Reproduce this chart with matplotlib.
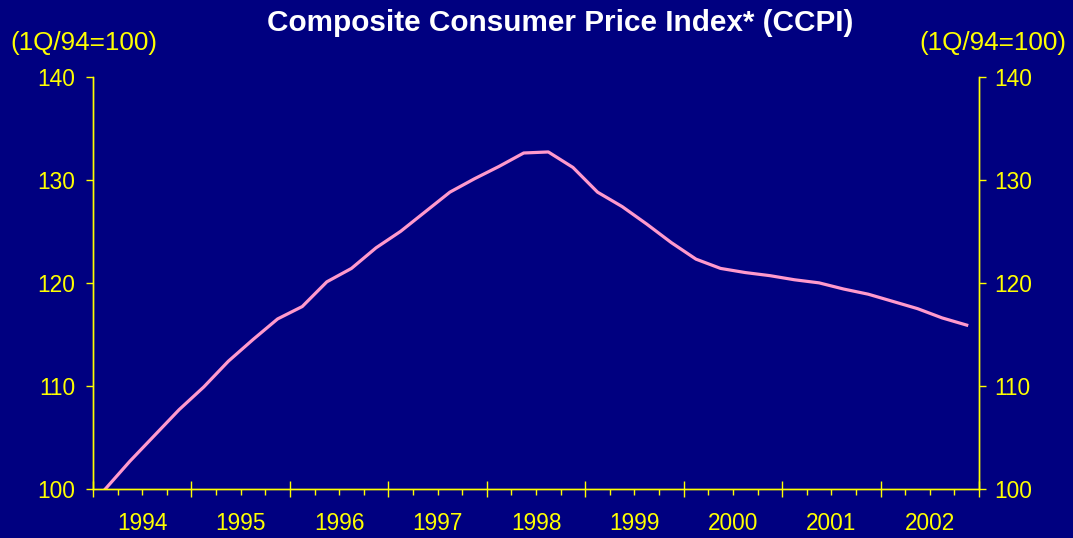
import matplotlib
matplotlib.use("Agg")
import matplotlib.pyplot as plt
import numpy as np

plt.rcParams["font.family"] = ["Liberation Sans", "DejaVu Sans"]

# quarterly CCPI, 1Q94 .. 4Q02 (1Q94 = 100)
years = ["1994", "1995", "1996", "1997", "1998", "1999", "2000", "2001", "2002"]
ccpi = [100.0, 102.7, 105.2, 107.7, 109.9, 112.4, 114.5, 116.5,
        117.7, 120.1, 121.4, 123.4, 125.0, 126.9, 128.8, 130.1,
        131.3, 132.6, 132.7, 131.2, 128.8, 127.4, 125.7, 123.9,
        122.3, 121.4, 121.0, 120.7, 120.3, 120.0, 119.4, 118.9,
        118.2, 117.5, 116.6, 115.9]

bg = "#000080"
yellow = "#FFFF00"

fig = plt.figure(figsize=(10.73, 5.38), dpi=100, facecolor=bg)
ax = fig.add_axes([0.0867, 0.0911, 0.8257, 0.7663])
ax.set_facecolor(bg)

x = np.arange(len(ccpi)) + 0.5
ax.plot(x, ccpi, color="#FF99CC", lw=2.3, solid_joinstyle="round")

ax.set_xlim(0, len(ccpi))
ax.set_ylim(100, 140)

# x axis: year ticks crossing the axis, quarter ticks below
ax.set_xticks(np.arange(0, len(ccpi) + 1, 4))
ax.set_xticklabels([])
minor = [q for q in range(1, len(ccpi)) if q % 4]
ax.set_xticks(minor, minor=True)
ax.set_xticklabels([years[q // 4] if q % 4 == 2 else "" for q in minor], minor=True)
ax.tick_params(axis="x", which="major", direction="inout", length=11, width=1, color=yellow)
ax.tick_params(axis="x", which="minor", direction="out", length=4.5, width=1, color=yellow,
               labelcolor=yellow, labelsize=16.3, pad=12)

ax.set_yticks([100, 110, 120, 130, 140])
ax.tick_params(axis="y", direction="out", length=5, width=1, color=yellow,
               labelcolor=yellow, labelsize=16.4, pad=8)

axr = ax.twinx()
axr.set_ylim(100, 140)
axr.set_yticks([100, 110, 120, 130, 140])
axr.tick_params(axis="y", direction="out", length=5, width=1, color=yellow,
                labelcolor=yellow, labelsize=16.4, pad=6)

for a in (ax, axr):
    a.spines["top"].set_visible(False)
    for s in ("left", "right", "bottom"):
        a.spines[s].set_color(yellow)
        a.spines[s].set_linewidth(1)

fig.text(0.522, 1 - 23 / 538, "Composite Consumer Price Index* (CCPI)", color="white",
         fontsize=21.4, fontweight="bold", ha="center", va="center")
fig.text(10 / 1073, 1 - 43 / 538, "(1Q/94=100)", color=yellow, fontsize=18.8,
         ha="left", va="center")
fig.text(1066 / 1073, 1 - 43 / 538, "(1Q/94=100)", color=yellow, fontsize=18.8,
         ha="right", va="center")

fig.savefig("out.png", dpi=100, facecolor=bg)
